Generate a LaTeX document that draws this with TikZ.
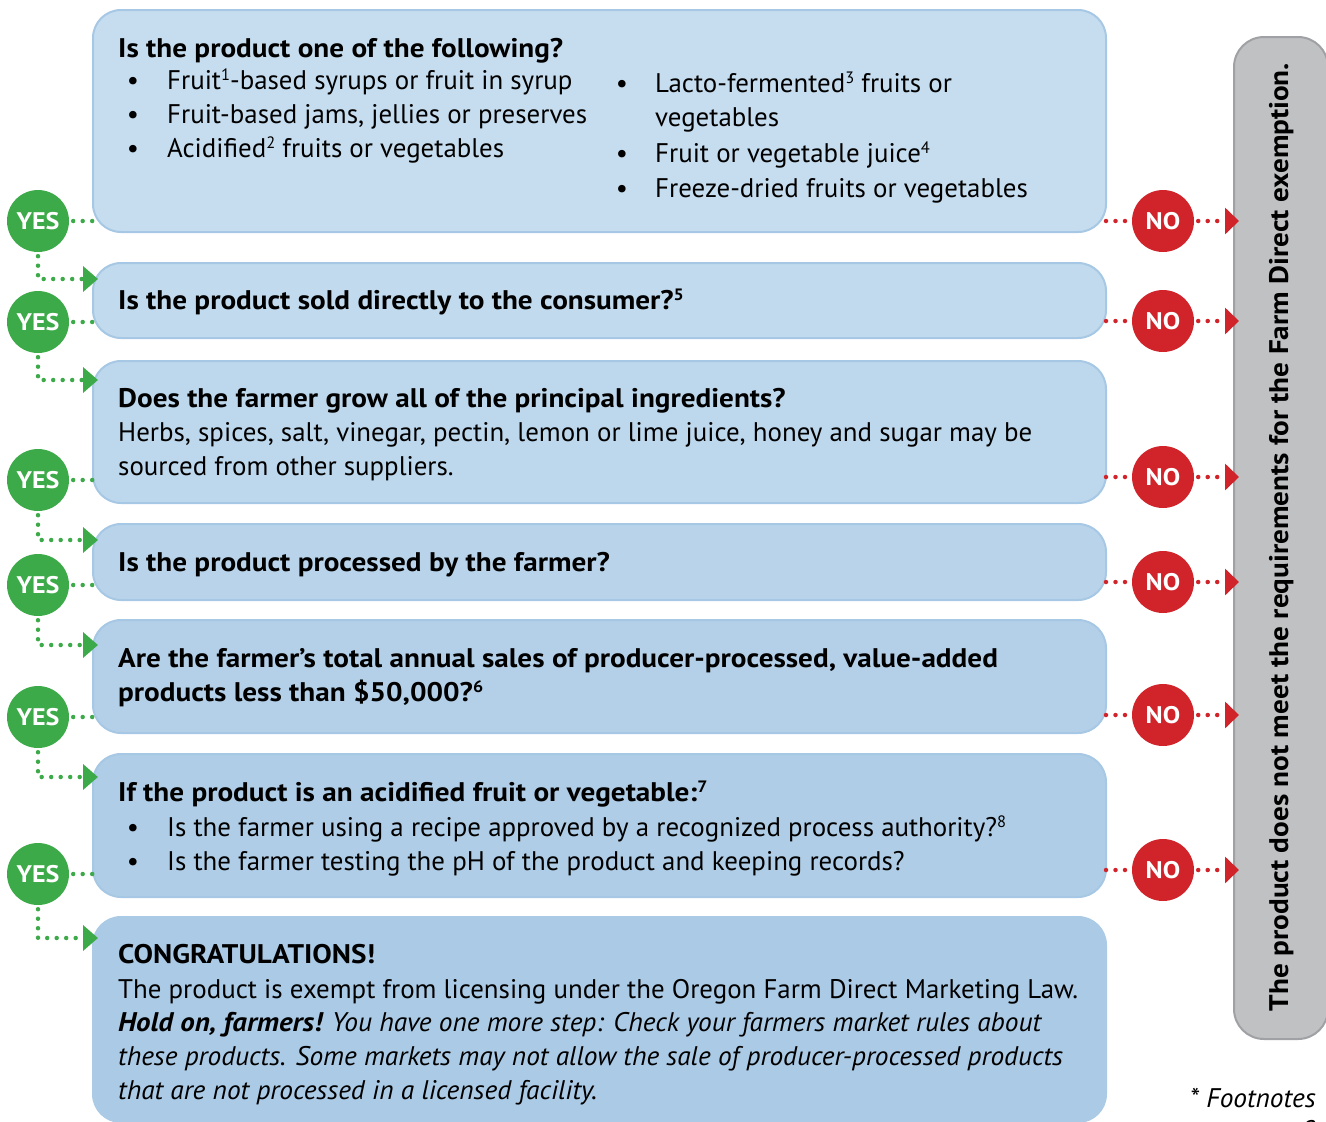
\documentclass[tikz,border=0pt]{standalone}
\usepackage{fontspec}
\setmainfont{PT Sans}[
  BoldFeatures={FakeStretch=1.085},
  ItalicFeatures={FakeStretch=1.018},
  BoldItalicFeatures={FakeStretch=1.075}]
\usetikzlibrary{arrows.meta}
\definecolor{yesgreen}{HTML}{3DAA49}
\definecolor{nored}{HTML}{D1232A}
\definecolor{barfill}{HTML}{BFC1C3}
\definecolor{baredge}{HTML}{9FA1A4}
\definecolor{qa}{RGB}{198,221,239}
\definecolor{qb}{RGB}{193,218,237}
\definecolor{qc}{RGB}{189,215,236}
\definecolor{qd}{RGB}{185,212,234}
\definecolor{qe}{RGB}{180,208,232}
\definecolor{qf}{RGB}{175,205,230}
\definecolor{qg}{RGB}{170,202,229}
\definecolor{qedge}{RGB}{166,200,228}
\newcommand{\bodyfont}{\fontsize{26.9}{34}\selectfont}
% small raised footnote figure
\newcommand{\fnum}[1]{\raisebox{9pt}{\fontsize{16.5}{16.5}\selectfont #1}}
\begin{document}
\begin{tikzpicture}[x=1pt,y=-1pt,
  qbox/.style={draw=qedge, line width=2pt, rounded corners=28pt, anchor=north west, inner sep=0pt, outer sep=0pt},
  yes/.style={circle, fill=yesgreen, minimum size=62pt, inner sep=0pt, text=white, font=\bfseries\fontsize{24}{24}\selectfont},
  no/.style={circle, fill=nored, minimum size=62pt, inner sep=0pt, text=white, font=\bfseries\fontsize{24}{24}\selectfont},
  yesline/.style={draw=yesgreen, line width=4.5pt, line cap=round, dash pattern=on 0pt off 9.5pt},
  yesarrow/.style={yesline, -{Triangle[length=15pt,width=25pt]}},
  noline/.style={draw=nored, line width=4.5pt, line cap=round, dash pattern=on 0pt off 9.5pt},
  noarrow/.style={noline, -{Triangle[length=14pt,width=26pt]}},
  txt/.style={anchor=base west, inner sep=0pt, font=\bodyfont},
  btxt/.style={anchor=base west, inner sep=0pt, font=\bfseries\bodyfont},
  itxt/.style={anchor=base west, inner sep=0pt, font=\itshape\bodyfont},
  bul/.style={anchor=base, inner sep=0pt, font=\bodyfont}
]
\useasboundingbox (0,0) rectangle (1326,1122);

% question boxes
\node[qbox, fill=qa, minimum width=1013pt, minimum height=222pt] (q1) at (93,10) {};
\node[qbox, fill=qb, minimum width=1013pt, minimum height=75pt] (q2) at (93,263) {};
\node[qbox, fill=qc, minimum width=1013pt, minimum height=142pt] (q3) at (93,361) {};
\node[qbox, fill=qd, minimum width=1013pt, minimum height=76pt] (q4) at (93,524) {};
\node[qbox, fill=qe, minimum width=1013pt, minimum height=113pt] (q5) at (93,620) {};
\node[qbox, fill=qf, minimum width=1013pt, minimum height=143pt] (q6) at (93,754) {};
\node[qbox, draw=qg, fill=qg, minimum width=1013pt, minimum height=205pt] (q7) at (93,917) {};

% side bar
\node[draw=baredge, fill=barfill, line width=2pt, rounded corners=30pt, anchor=north west,
      minimum width=94pt, minimum height=1002pt, inner sep=0pt] (bar) at (1233,36) {};
\node[rotate=90, anchor=base, inner sep=0pt, font=\bfseries\bodyfont] (bartext) at (1288,537)
  {The product does not meet the requirements for the Farm Direct exemption.};

% box 1
\node[btxt] (t1) at (118,57) {Is the product one of the following?};
\node[bul] (b1a) at (133,89) {•};
\node[txt] (t1a) at (167,89) {Fruit\fnum{1}-based syrups or fruit in syrup};
\node[bul] (b1b) at (133,123) {•};
\node[txt] (t1b) at (167,123) {Fruit-based jams, jellies or preserves};
\node[bul] (b1c) at (133,157) {•};
\node[txt] (t1c) at (167,157) {Acidified\fnum{2} fruits or vegetables};
\node[bul] (b1d) at (622,92) {•};
\node[txt] (t1d) at (655,92) {Lacto-fermented\fnum{3} fruits or};
\node[txt] (t1e) at (655,126) {vegetables};
\node[bul] (b1f) at (622,162) {•};
\node[txt] (t1f) at (655,162) {Fruit or vegetable juice\fnum{4}};
\node[bul] (b1g) at (622,197) {•};
\node[txt] (t1g) at (655,197) {Freeze-dried fruits or vegetables};

% box 2
\node[btxt] (t2) at (118,309) {Is the product sold directly to the consumer?\fnum{5}};

% box 3
\node[btxt] (t3) at (118,407) {Does the farmer grow all of the principal ingredients?};
\node[txt] (t3a) at (118,441) {Herbs, spices, salt, vinegar, pectin, lemon or lime juice, honey and sugar may be};
\node[txt] (t3b) at (118,475) {sourced from other suppliers.};

% box 4
\node[btxt] (t4) at (118,571) {Is the product processed by the farmer?};

% box 5
\node[btxt] (t5) at (118,667) {Are the farmer’s total annual sales of producer-processed, value-added};
\node[btxt] (t5a) at (118,701) {products less than \$50,000?\fnum{6}};

% box 6
\node[btxt] (t6) at (118,801) {If the product is an acidified fruit or vegetable:\fnum{7}};
\node[bul] (b6a) at (133,836) {•};
\node[txt] (t6a) at (167,836) {Is the farmer using a recipe approved by a recognized process authority?\fnum{8}};
\node[bul] (b6b) at (133,870) {•};
\node[txt] (t6b) at (167,870) {Is the farmer testing the pH of the product and keeping records?};

% box 7
\node[btxt] (t7) at (118,963) {CONGRATULATIONS!};
\node[txt] (t7a) at (118,998) {The product is exempt from licensing under the Oregon Farm Direct Marketing Law.};
\node[itxt] (t7b) at (118,1031) {\textbf{Hold on, farmers!} You have one more step: Check your farmers market rules about};
\node[itxt] (t7c) at (118,1065) {these products. Some markets may not allow the sale of producer-processed products};
\node[itxt] (t7d) at (118,1099) {that are not processed in a licensed facility.};

% footnote reference
\node[anchor=base east, inner sep=0pt, font=\itshape\bodyfont] (fn) at (1316,1107) {* Footnotes};
\node[anchor=base east, inner sep=0pt, font=\itshape\bodyfont] (fn2) at (1316,1139) {2};

% yes circles
\node[yes] (y1) at (38,221) {YES};
\node[yes] (y2) at (38,322) {YES};
\node[yes] (y3) at (38,480) {YES};
\node[yes] (y4) at (38,585) {YES};
\node[yes] (y5) at (38,717) {YES};
\node[yes] (y6) at (38,874) {YES};

% no circles
\node[no] (n1) at (1163,221) {NO};
\node[no] (n2) at (1163,321) {NO};
\node[no] (n3) at (1163,477) {NO};
\node[no] (n4) at (1163,582) {NO};
\node[no] (n5) at (1163,715) {NO};
\node[no] (n6) at (1163,870) {NO};

% arrow landing points on the next box
\coordinate (a2) at (98,279);
\coordinate (a3) at (98,380);
\coordinate (a4) at (98,540);
\coordinate (a5) at (98,645);
\coordinate (a6) at (98,777);
\coordinate (a7) at (98,938);

% yes connectors
\foreach \i/\q/\a in {1/1/2, 2/2/3, 3/3/4, 4/4/5, 5/5/6, 6/6/7}{
  \draw[yesline] ([xshift=4pt]y\i.east) -- (y\i -| q\q.west);
  \draw[yesarrow] ([yshift=-4pt]y\i.south) |- (a\a);
}

% no connectors
\foreach \i/\q in {1/1, 2/2, 3/3, 4/4, 5/5, 6/6}{
  \draw[noline] (n\i -| q\q.east) -- ([xshift=-4pt]n\i.west);
  \coordinate (e\i) at ([xshift=6pt]n\i -| bar.west);
  \draw[noarrow] ([xshift=4pt]n\i.east) -- (e\i);
}
\end{tikzpicture}
\end{document}
